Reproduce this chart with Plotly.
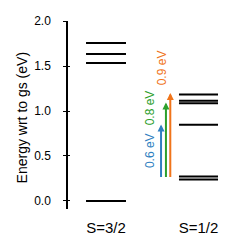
import plotly.graph_objects as go

# ---- data ----
spin_labels = ["S=3/2", "S=1/2"]
quartet_levels = [0.0, 1.533, 1.633, 1.755]          # eV, S=3/2
doublet_levels = [0.24, 0.272, 0.847, 1.085, 1.113, 1.184]  # eV, S=1/2
transition_labels = ["0.6 eV", "0.8 eV", "0.9 eV"]
transition_start = [0.25, 0.25, 0.25]
transition_end = [0.85, 1.095, 1.2]
transition_colors = ["#2f7fc1", "#2ca02c", "#f0741a"]
y_ticks = [0.0, 0.5, 1.0, 1.5, 2.0]
y_title = "Energy wrt to gs (eV)"

# ---- layout constants ----
col_x = [1.0, 2.0]
half_w = [0.216, 0.211]
arrow_x = [1.595, 1.648, 1.695]
label_x = [1.475, 1.475, 1.6]
label_y = [0.565, 1.04, 1.48]

fig = go.Figure()

for levels, cx, hw in zip([quartet_levels, doublet_levels], col_x, half_w):
    xs, ys = [], []
    for e in levels:
        xs += [cx - hw, cx + hw, None]
        ys += [e, e, None]
    fig.add_trace(go.Scatter(x=xs, y=ys, mode="lines",
                             line=dict(color="black", width=2),
                             hoverinfo="skip", showlegend=False))

# invisible trace for the overlay axis (inner half of ticks)
fig.add_trace(go.Scatter(x=[col_x[0]], y=[0], yaxis="y2", mode="markers",
                         marker=dict(opacity=0), showlegend=False, hoverinfo="skip"))

for x, y0, y1, c, lab, lx, ly in zip(arrow_x, transition_start, transition_end,
                                     transition_colors, transition_labels, label_x, label_y):
    fig.add_annotation(x=x, y=y1, ax=x, ay=y0, xref="x", yref="y", axref="x", ayref="y",
                       showarrow=True, arrowhead=2, arrowsize=0.7, arrowwidth=2,
                       arrowcolor=c, text="")
    fig.add_annotation(x=lx, y=ly, xref="x", yref="y", text=lab, showarrow=False,
                       textangle=-90, font=dict(color=c, size=12,
                                                family="Liberation Sans, Arial, sans-serif"))

fig.add_annotation(x=-0.29, y=0.485, xref="paper", yref="paper", text=y_title,
                   showarrow=False, textangle=-90, xanchor="center", yanchor="middle",
                   font=dict(size=14))

yr = [-0.089, 2.0]
fig.update_layout(
    width=236, height=236,
    margin=dict(l=60, r=16, t=13, b=35, pad=0),
    paper_bgcolor="white", plot_bgcolor="white",
    font=dict(family="Liberation Sans, Arial, sans-serif", color="black"),
    xaxis=dict(range=[0.589, 2.319], tickvals=col_x, ticktext=spin_labels,
               showgrid=False, zeroline=False, showline=False, ticks="",
               tickfont=dict(size=15), ticklabelstandoff=8, automargin=False),
    yaxis=dict(range=yr, tickvals=y_ticks, ticktext=[f"{v:.1f}" for v in y_ticks],
               showgrid=False, zeroline=False, showline=True, linecolor="black",
               linewidth=1.5, ticks="outside", ticklen=3, tickwidth=1,
               tickcolor="black", tickfont=dict(size=12), ticklabelstandoff=10,
               automargin=False),
    yaxis2=dict(range=yr, overlaying="y", side="left", tickvals=y_ticks,
                showticklabels=False, ticks="inside", ticklen=2, tickwidth=1,
                tickcolor="black", showgrid=False, zeroline=False, showline=False,
                automargin=False),
)

fig.write_html("out.html")
